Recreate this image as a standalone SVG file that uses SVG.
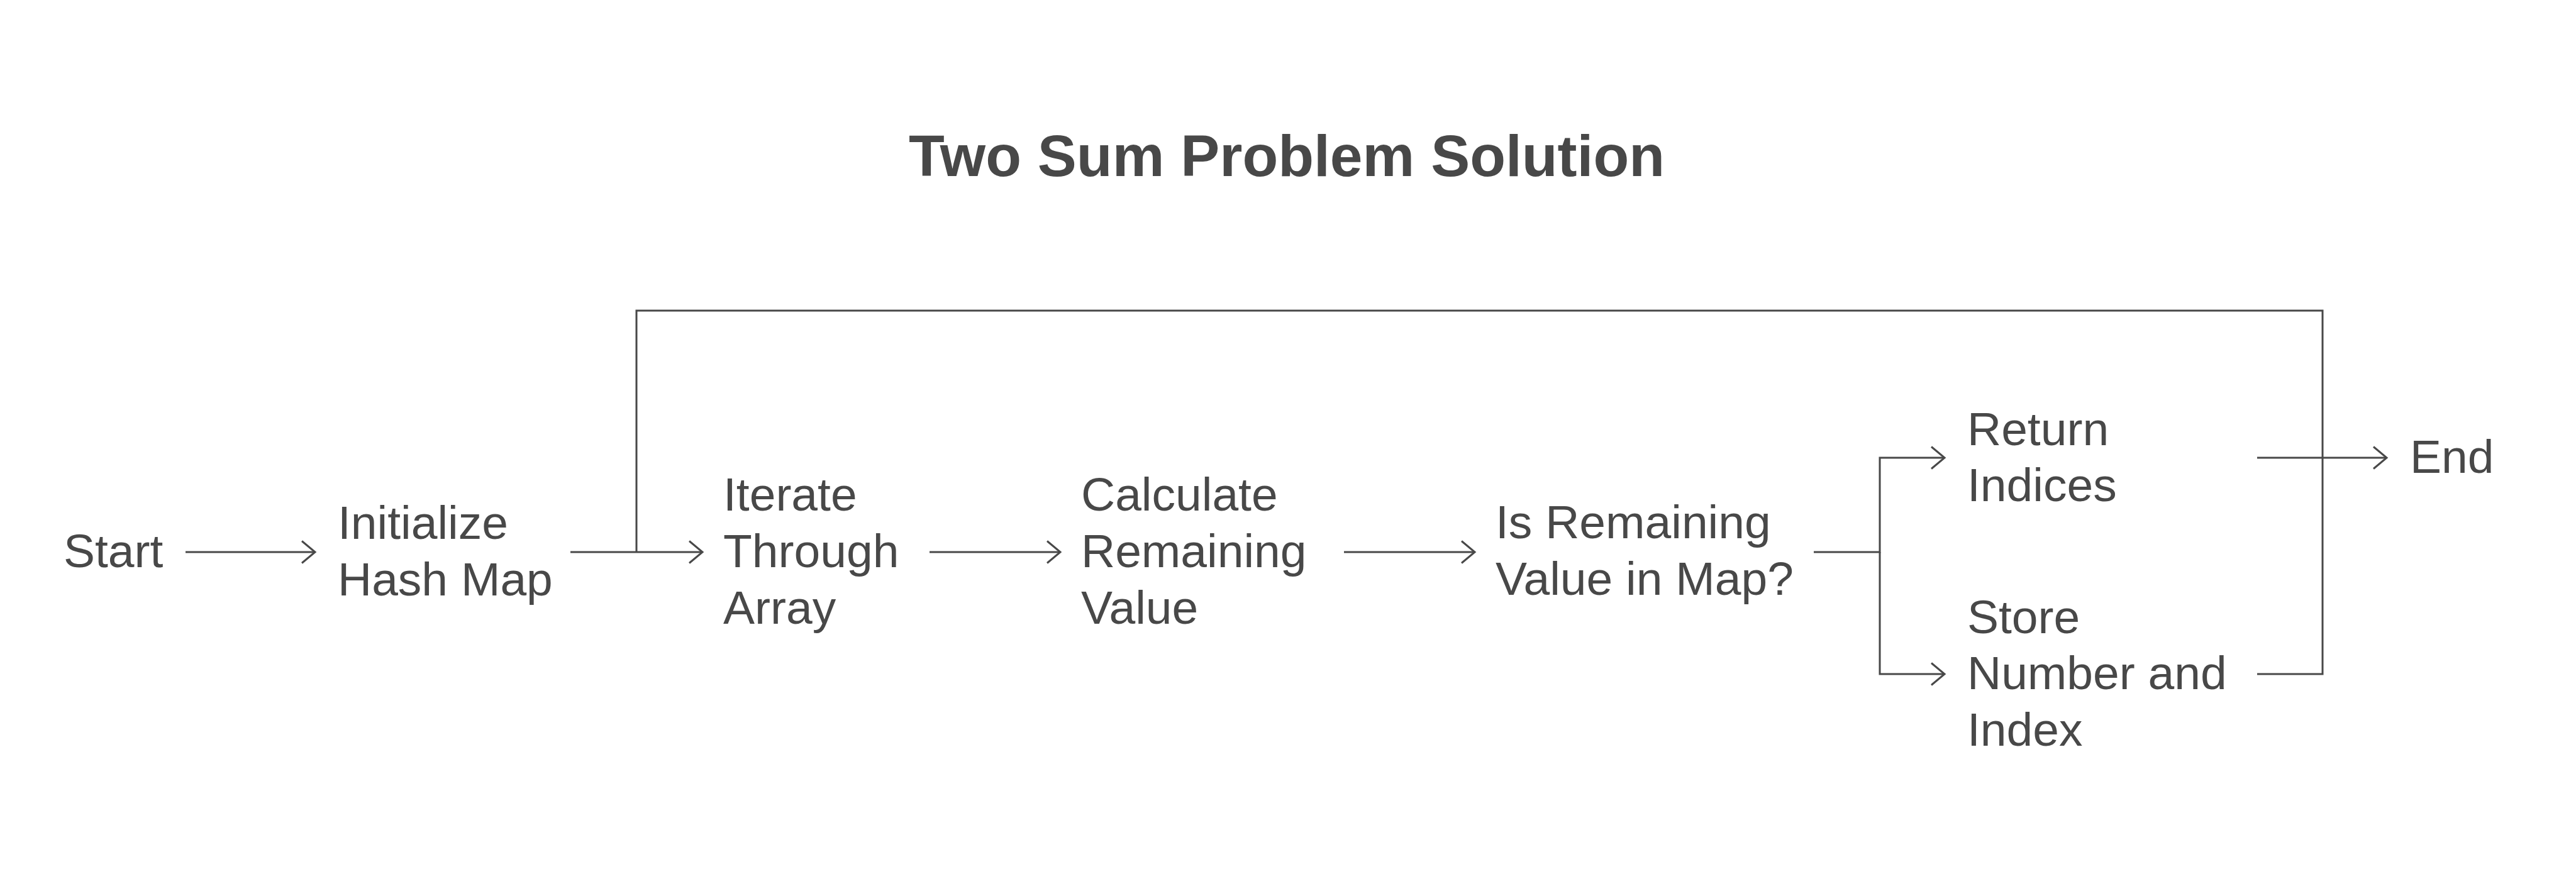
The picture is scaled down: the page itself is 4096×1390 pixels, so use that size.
<svg xmlns="http://www.w3.org/2000/svg" width="4096" height="1390" viewBox="0 0 4096 1390">
<style>
.t{font-family:"Liberation Sans",Arial,sans-serif;font-size:75px;fill:#484848}
.title{font-family:"Liberation Sans",Arial,sans-serif;font-size:93px;font-weight:bold;fill:#484848}
.c{fill:none;stroke:#484848;stroke-width:3}
</style>
<defs>
<marker id="arr" markerUnits="userSpaceOnUse" viewBox="-26 -22 30 44" markerWidth="30" markerHeight="44" refX="0" refY="0" orient="auto">
<path d="M-21,-17.5 L0,0 L-21,17.5" fill="none" stroke="#484848" stroke-width="3"/>
</marker>
</defs>
<rect width="4096" height="1390" fill="#ffffff"/>
<text class="title" x="2046" y="280" text-anchor="middle">Two Sum Problem Solution</text>
<g id="connectors">
<path class="c" d="M295,878 H501" marker-end="url(#arr)"/>
<path class="c" d="M907,878 H1117" marker-end="url(#arr)"/>
<path class="c" d="M1478,878 H1686" marker-end="url(#arr)"/>
<path class="c" d="M2137,878 H2345" marker-end="url(#arr)"/>
<path class="c" d="M2884,878 H2989 V728 H3092" marker-end="url(#arr)"/>
<path class="c" d="M2989,878 V1072 H3092" marker-end="url(#arr)"/>
<path class="c" d="M3589,728 H3795" marker-end="url(#arr)"/>
<path class="c" d="M3589,1072 H3693 V494 H1012 V878"/>
</g>
<g id="start"><text class="t" x="101" y="902">Start</text></g>
<g id="init"><text class="t" x="537" y="857">Initialize</text><text class="t" x="537" y="947">Hash Map</text></g>
<g id="iterate"><text class="t" x="1150" y="812">Iterate</text><text class="t" x="1150" y="902">Through</text><text class="t" x="1150" y="992">Array</text></g>
<g id="calc"><text class="t" x="1719" y="812">Calculate</text><text class="t" x="1719" y="902">Remaining</text><text class="t" x="1719" y="992">Value</text></g>
<g id="check"><text class="t" x="2378" y="856">Is Remaining</text><text class="t" x="2378" y="946">Value in Map?</text></g>
<g id="return"><text class="t" x="3128" y="708">Return</text><text class="t" x="3128" y="797">Indices</text></g>
<g id="store"><text class="t" x="3128" y="1007">Store</text><text class="t" x="3128" y="1096">Number and</text><text class="t" x="3128" y="1186">Index</text></g>
<g id="end"><text class="t" x="3832" y="752">End</text></g>
</svg>
